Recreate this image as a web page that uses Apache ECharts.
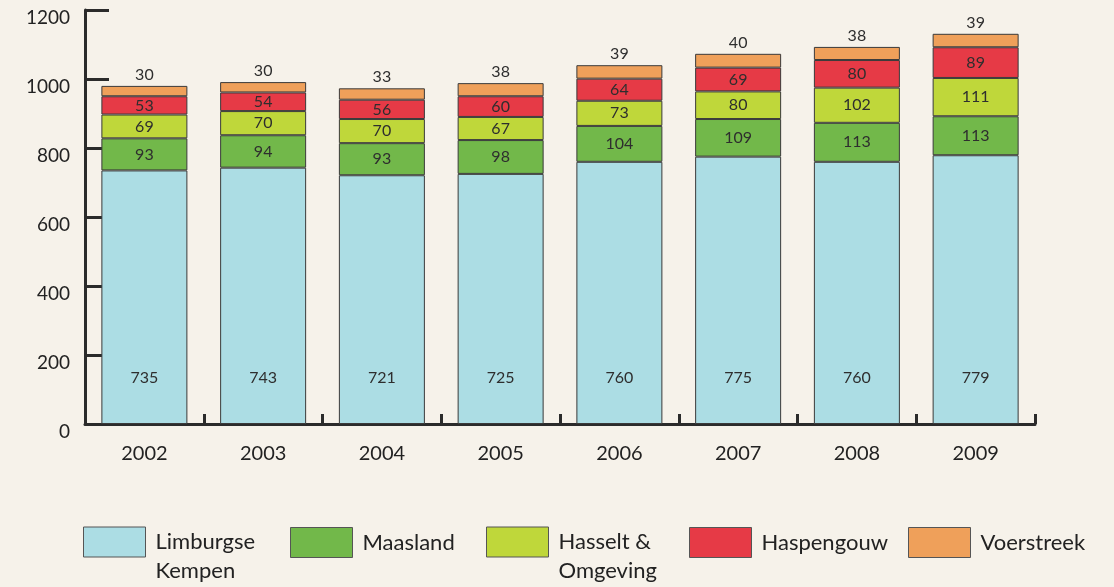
<!DOCTYPE html>
<html>
<head>
<meta charset="utf-8">
<script src="https://cdn.jsdelivr.net/npm/echarts@6/dist/echarts.min.js"></script>
<style>
html,body{margin:0;padding:0;background:#f6f2ea;}
#c{width:1114px;height:587px;}
</style>
</head>
<body>
<div id="c"></div>
<script>
const years = ['2002','2003','2004','2005','2006','2007','2008','2009'];
const seriesNames = ['Limburgse Kempen','Maasland','Hasselt & Omgeving','Haspengouw','Voerstreek'];
const legendLabels = ['Limburgse\nKempen','Maasland','Hasselt &\nOmgeving','Haspengouw','Voerstreek'];
const limburgseKempen = [735, 743, 721, 725, 760, 775, 760, 779];
const maasland = [93, 94, 93, 98, 104, 109, 113, 113];
const hasseltOmgeving = [69, 70, 70, 67, 73, 80, 102, 111];
const haspengouw = [53, 54, 56, 60, 64, 69, 80, 89];
const voerstreek = [30, 30, 33, 38, 39, 40, 38, 39];
const yTicks = [0, 200, 400, 600, 800, 1000, 1200];

const values = [limburgseKempen, maasland, hasseltOmgeving, haspengouw, voerstreek];
const colors = ['#acdde4', '#72b84a', '#bfd73a', '#e63a46', '#efa05a'];
const FONT = 'Lato';

const chart = echarts.init(document.getElementById('c'));

const series = seriesNames.map((n, i) => {
  const base = {fontSize: 16, color: '#2e2e2e', fontFamily: FONT};
  let label;
  if (i === 0) {
    label = Object.assign({show: true, position: 'insideBottom', distance: 38}, base);
  } else if (i === 4) {
    label = Object.assign({show: true, position: 'top', distance: 3}, base);
  } else {
    label = Object.assign({show: true, position: 'inside'}, base);
  }
  return {
    name: n,
    type: 'bar',
    stack: 'total',
    barWidth: 86,
    data: values[i],
    itemStyle: {color: colors[i], borderColor: '#3a3a3a', borderWidth: 1},
    label: label,
    emphasis: {disabled: true},
    animation: false
  };
});

const legendLefts = [83, 290, 486, 689, 908];
const legends = seriesNames.map((n, i) => {
  const two = legendLabels[i].indexOf('\n') >= 0;
  return {
    data: [n],
    left: legendLefts[i],
    top: two ? 498.5 : 527,
    padding: 0,
    itemWidth: 62,
    itemHeight: 30,
    itemGap: 10,
    selectedMode: false,
    icon: 'rect',
    itemStyle: {borderColor: '#555', borderWidth: 1},
    formatter: () => (two ? ' \n' : '') + legendLabels[i],
    textStyle: {
      fontSize: 22, color: '#222', fontFamily: FONT, lineHeight: 29,
      padding: [0, 0, 0, 5]
    }
  };
});

chart.setOption({
  backgroundColor: '#f6f2ea',
  animation: false,
  grid: {left: 85, right: 79, top: 10, bottom: 163},
  legend: legends,
  xAxis: {
    type: 'category',
    data: years,
    boundaryGap: true,
    axisLine: {show: true, lineStyle: {color: '#2b2b2b', width: 3}},
    axisTick: {show: true, inside: true, length: 10, lineStyle: {color: '#2b2b2b', width: 3}},
    axisLabel: {fontSize: 20, color: '#222', fontFamily: FONT, margin: 20}
  },
  yAxis: {
    type: 'value',
    min: yTicks[0],
    max: yTicks[yTicks.length - 1],
    interval: yTicks[1] - yTicks[0],
    axisLine: {show: true, lineStyle: {color: '#2b2b2b', width: 3}},
    axisTick: {show: true, inside: true, length: 24, lineStyle: {color: '#2b2b2b', width: 3}},
    splitLine: {show: false},
    axisLabel: {fontSize: 19, color: '#222', fontFamily: FONT, margin: 15, verticalAlign: 'top', lineHeight: 16, formatter: v => String(v)}
  },
  series: series
});
</script>
</body>
</html>
